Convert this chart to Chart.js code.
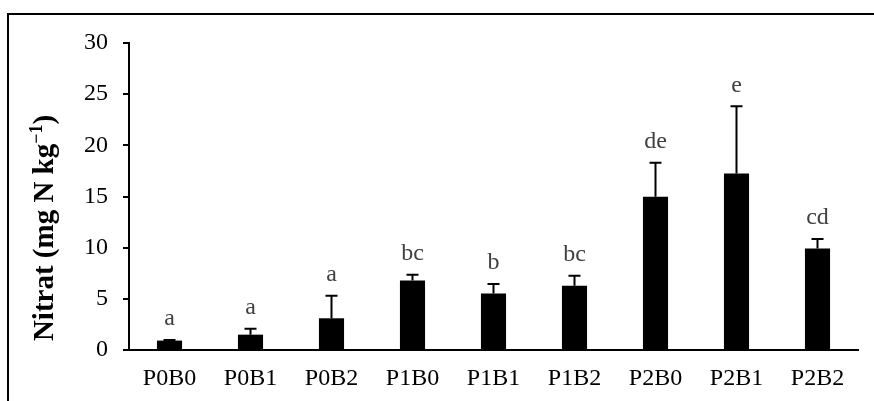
<!DOCTYPE html>
<html>
<head>
<meta charset="utf-8">
<script src="https://cdn.jsdelivr.net/npm/chart.js@4.4.0/dist/chart.umd.min.js"></script>
<style>
    html, body { margin: 0; padding: 0; background: #fff; }
    #wrap { position: relative; width: 874px; height: 401px; overflow: hidden; }
    #frame {
        position: absolute; left: 7px; top: 13px; width: 880px; height: 400px;
        border-left: 2px solid #000; border-top: 2px solid #000;
    }
    canvas { position: absolute; left: 0; top: 0; }
</style>
</head>
<body>
<div id="wrap">
    <div id="frame"></div>
    <canvas id="chart" width="874" height="401"></canvas>
</div>
<script>
const categories = ["P0B0", "P0B1", "P0B2", "P1B0", "P1B1", "P1B2", "P2B0", "P2B1", "P2B2"];
const nitrat = [0.92, 1.5, 3.1, 6.8, 5.53, 6.28, 14.97, 17.25, 9.93];
const errorTop = [0.98, 2.08, 5.3, 7.35, 6.44, 7.26, 18.29, 23.82, 10.84];
const letters = ["a", "a", "a", "bc", "b", "bc", "de", "e", "cd"];
const yTicks = [0, 5, 10, 15, 20, 25, 30];

const FONT = "'Liberation Serif', 'Times New Roman', serif";

// upward error bars + significance letters
const errorBarPlugin = {
    id: "errorBars",
    afterDatasetsDraw(chart) {
        const ctx = chart.ctx;
        const y = chart.scales.y;
        const meta = chart.getDatasetMeta(0);
        ctx.save();
        ctx.strokeStyle = "#000";
        ctx.lineWidth = 2;
        meta.data.forEach((bar, i) => {
            const top = y.getPixelForValue(errorTop[i]);
            ctx.beginPath();
            ctx.moveTo(bar.x, bar.y);
            ctx.lineTo(bar.x, top);
            ctx.moveTo(bar.x - 6, top);
            ctx.lineTo(bar.x + 6, top);
            ctx.stroke();

            ctx.fillStyle = "#404040";
            ctx.font = "24px " + FONT;
            ctx.textAlign = "center";
            ctx.textBaseline = "middle";
            ctx.fillText(letters[i], bar.x, top - 21);
        });
        ctx.restore();
    },
};

// rotated y title with superscript
const yTitlePlugin = {
    id: "yTitle",
    afterDraw(chart) {
        const ctx = chart.ctx;
        const main = "Nitrat (mg N kg";
        const sup = "\u22121";
        const tail = ")";
        ctx.save();
        ctx.translate(46, 228);
        ctx.rotate(-Math.PI / 2);
        ctx.fillStyle = "#000";
        ctx.textBaseline = "middle";
        ctx.font = "bold 29px " + FONT;
        const w1 = ctx.measureText(main).width;
        const w3 = ctx.measureText(tail).width;
        ctx.font = "bold 18px " + FONT;
        const w2 = ctx.measureText(sup).width;
        let x = -(w1 + w2 + w3) / 2;
        ctx.font = "bold 29px " + FONT;
        ctx.fillText(main, x, 0);
        x += w1;
        ctx.font = "bold 18px " + FONT;
        ctx.fillText(sup, x, -9);
        x += w2;
        ctx.font = "bold 29px " + FONT;
        ctx.fillText(tail, x, 0);
        ctx.restore();
    },
};

new Chart(document.getElementById("chart"), {
    type: "bar",
    data: {
        labels: categories,
        datasets: [{
            data: nitrat,
            backgroundColor: "#000",
            borderWidth: 0,
            categoryPercentage: 1,
            barPercentage: 0.31,
        }],
    },
    options: {
        responsive: false,
        animation: false,
        layout: { padding: { left: 0, right: 16, top: 43, bottom: 0 } },
        plugins: { legend: { display: false }, tooltip: { enabled: false } },
        scales: {
            x: {
                grid: { display: false },
                border: { display: true, color: "#000", width: 2 },
                ticks: { color: "#000", font: { family: FONT, size: 24 }, padding: 6 },
                afterFit: (s) => { s.height = 51; },
            },
            y: {
                min: 0,
                max: 30,
                afterBuildTicks: (s) => { s.ticks = yTicks.map((v) => ({ value: v })); },
                grid: { drawOnChartArea: false, drawTicks: true, tickLength: 6, color: "#000", lineWidth: 2 },
                border: { display: true, color: "#000", width: 2 },
                ticks: { color: "#000", font: { family: FONT, size: 24 }, padding: 15 },
                afterFit: (s) => { s.width = 129; },
            },
        },
    },
    plugins: [errorBarPlugin, yTitlePlugin],
});
</script>
</body>
</html>
